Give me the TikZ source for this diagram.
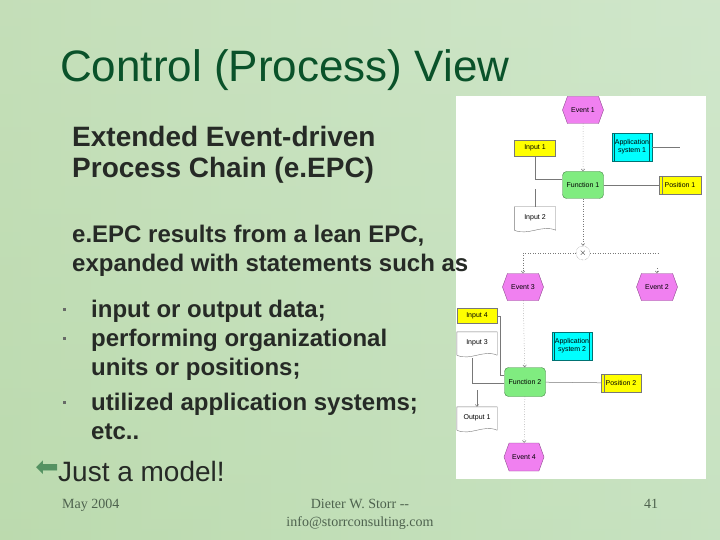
\documentclass[tikz,border=0pt]{standalone}
\usepackage{fontspec}
\setmainfont{Liberation Sans}
\newfontfamily\footfont{Liberation Serif}
\newfontfamily\arrowfont{DejaVu Sans}
\usetikzlibrary{shapes.symbols,arrows.meta}
\definecolor{slidegreen}{RGB}{196,224,184}
\definecolor{slideleft}{RGB}{184,216,170}
\definecolor{slideright}{RGB}{202,228,198}
\definecolor{titlegreen}{RGB}{10,82,42}
\definecolor{bodygray}{RGB}{38,42,38}
\definecolor{footgray}{RGB}{78,98,78}
\definecolor{arrowgreen}{RGB}{84,146,98}
\definecolor{evmagenta}{RGB}{240,128,240}
\definecolor{fngreen}{RGB}{128,236,128}
\definecolor{datayellow}{RGB}{255,255,0}
\definecolor{appcyan}{RGB}{0,255,255}
\definecolor{linegray}{RGB}{120,120,120}
\tikzset{
  heading/.style={anchor=base west,inner sep=0pt,text=bodygray,font=\bfseries\fontsize{28}{31}\selectfont},
  bodytext/.style={anchor=base west,inner sep=0pt,text=bodygray,font=\bfseries\fontsize{24}{28}\selectfont},
  foot/.style={inner sep=0pt,text=footgray,font=\footfont\fontsize{14}{16}\selectfont},
  small/.style={font=\fontsize{7}{8}\selectfont,inner sep=0pt,align=center},
  event/.style={small,signal,signal to=west and east,signal pointer angle=140,
    fill=evmagenta,draw=evmagenta!60!black,line width=0.4pt,minimum width=41pt,minimum height=27pt},
  function/.style={small,rectangle,rounded corners=4pt,fill=fngreen,draw=fngreen!55!black,
    line width=0.4pt,minimum width=41pt,minimum height=27pt},
  databox/.style={small,rectangle,fill=datayellow,draw=linegray,line width=0.4pt,minimum width=41pt,minimum height=16pt},
  docbox/.style={small,rectangle,minimum width=41pt,minimum height=26pt,text depth=6pt},
  posbox/.style={small,rectangle,fill=datayellow,draw=linegray,line width=0.4pt,minimum width=42pt,minimum height=18pt,
    path picture={\draw[linegray,line width=0.4pt] ([xshift=3pt]path picture bounding box.north west)
      -- ([xshift=3pt]path picture bounding box.south west);}},
  appbox/.style={small,rectangle,fill=appcyan,draw=appcyan!45!black,line width=0.4pt,minimum width=40pt,minimum height=28pt,
    path picture={\draw[appcyan!35!black,line width=0.4pt]
      ([xshift=2.5pt]path picture bounding box.north west) -- ([xshift=2.5pt]path picture bounding box.south west)
      ([xshift=-2.5pt]path picture bounding box.north east) -- ([xshift=-2.5pt]path picture bounding box.south east);}},
  xorgate/.style={circle,draw=linegray,densely dotted,line width=0.4pt,minimum size=14pt,inner sep=0pt,
    font=\fontsize{9}{9}\selectfont},
  link/.style={draw=linegray,line width=0.5pt},
  ctrl/.style={draw=linegray,dotted,line width=0.5pt,-{Straight Barb[length=2pt,width=3.5pt]}}
}
\begin{document}
\begin{tikzpicture}[x=1pt,y=-1pt]
\useasboundingbox (0,0) rectangle (720,540);
% slide background
\shade[left color=slideleft,right color=slideright] (0,0) rectangle (720,540);
\shade[top color=slidegreen!60!white,bottom color=slidegreen,opacity=0.35] (0,0) rectangle (720,540);

% e.EPC diagram
\fill[white] (456,96) rectangle (706,479);
\node[event] (ev1) at (583,110) {Event 1};
\node[databox] (in1) at (535,148) {Input 1};
\node[appbox] (app1) at (632,147) {Application\\system 1};
\node[function] (fn1) at (583,185) {Function 1};
\node[posbox] (pos1) at (680,185) {Position 1};
\node[docbox] (in2) at (535,220) {Input 2};
\node[xorgate] (xor) at (583,253) {$\times$};
\node[event] (ev3) at (523,287) {Event 3};
\node[event] (ev2) at (657,287) {Event 2};
\node[databox,minimum width=40pt,minimum height=15pt] (in4) at (477,316) {Input 4};
\node[docbox,minimum width=40pt] (in3) at (477,345) {Input 3};
\node[appbox] (app2) at (572,346) {Application\\system 2};
\node[function,minimum height=29pt] (fn2) at (525,382) {Function 2};
\node[posbox,minimum width=40pt] (pos2) at (621,383) {Position 2};
\node[docbox,minimum width=40pt] (out1) at (477,420) {Output 1};
\node[event,minimum width=40pt,minimum height=28pt] (ev4) at (524,457) {Event 4};

\foreach \d in {in2,in3,out1}
  \draw[link,line width=0.4pt] (\d.north west) -- (\d.north east) -- ([yshift=3pt]\d.south east)
    .. controls ([xshift=-14pt,yshift=9pt]\d.south east) and ([xshift=14pt,yshift=-3pt]\d.south west)
    .. ([yshift=3pt]\d.south west) -- cycle;

\coordinate (app1end) at (680,147);
\coordinate (in2end) at (535,189);
\coordinate (xorend) at (659,253);
\coordinate (ev2top) at (657,268);
\coordinate (out1top) at (477,390);

\draw[ctrl] (ev1) -- (fn1);
\draw[link] (in1.south) |- ([yshift=6pt]fn1.west);
\draw[link] (app1.east) -- (app1end);
\draw[link] (fn1) -- (pos1);
\draw[link] (in2.north) -- (in2end);
\draw[ctrl] (fn1) -- (xor);
\draw[ctrl] (xor.west) -| (ev3.north);
\draw[link,dotted] (xor.east) -- (xorend);
\draw[ctrl] (ev2top) -- (ev2.north);
\draw[ctrl] (ev3) -- (fn2);
\draw[link] (in4.east) -- ++(3,0) |- ([yshift=7pt]fn2.west);
\draw[link] ([xshift=-5pt]in3.south) |- ([yshift=-1pt]fn2.west);
\draw[link,-{Straight Barb[length=2pt,width=3.5pt]}] (out1top) -- (out1.north);
\draw[link] (fn2) -- (pos2);
\draw[ctrl] (fn2) -- (ev4);

% slide text
\node[anchor=base west,inner sep=0pt,text=titlegreen,font=\fontsize{44}{48}\selectfont] (title) at (60,82) {Control (Process) View};
\node[heading] (ext1) at (72,147) {Extended Event-driven};
\node[heading] (ext2) at (72,178) {Process Chain (e.EPC)};
\node[bodytext] (res1) at (72,243) {e.EPC results from a lean EPC,};
\node[bodytext] (res2) at (72,271) {expanded with statements such as};
\node[bodytext] (item1) at (91,317) {input or output data;};
\node[bodytext] (item2a) at (91,346) {performing organizational};
\node[bodytext] (item2b) at (91,375) {units or positions;};
\node[bodytext] (item3a) at (91,410) {utilized application systems;};
\node[bodytext] (item3b) at (91,439) {etc..};
\foreach \y in {317,346,410}
  \fill[bodygray!70] (63,\y-9) rectangle +(3,3);
\node[anchor=east,inner sep=0pt,text=arrowgreen,font=\arrowfont\fontsize{28}{30}\selectfont] (arrow) at (59,469) {⬅};
\node[anchor=base west,inner sep=0pt,text=bodygray,font=\fontsize{28}{31}\selectfont] (model) at (58,481) {Just a model!};

\node[foot,anchor=base west] (date) at (62,508) {May 2004};
\node[foot,anchor=base] (author) at (360,508) {Dieter W. Storr --};
\node[foot,anchor=base] (mail) at (360,526) {info@storrconsulting.com};
\node[foot,anchor=base] (page) at (651,508) {41};
\end{tikzpicture}
\end{document}
